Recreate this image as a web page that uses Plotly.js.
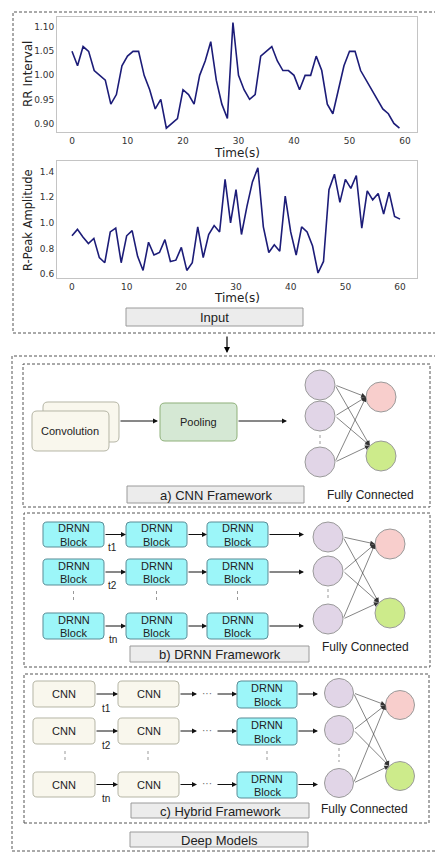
<!DOCTYPE html>
<html><head><meta charset="utf-8">
<script src="https://cdn.plot.ly/plotly-3.0.1.min.js"></script>
<style>html,body{margin:0;padding:0;background:#fff;}#chart{width:435px;height:852px;}</style>
</head><body><div id="chart"></div>
<script>
// ---- data ----
const rrTime = [0,1,2,3,4,5,6,7,8,9,10,11,12,13,14,15,16,17,18,19,20,21,22,23,24,25,26,27,28,29,30,31,32,33,34,35,36,37,38,39,40,41,42,43,44,45,46,47,48,49,50,51,52,53,54,55,56,57,58,59];
const rrInterval = [1.05,1.02,1.06,1.05,1.01,1.00,0.99,0.94,0.96,1.02,1.04,1.05,1.05,1.00,0.97,0.93,0.95,0.89,0.90,0.91,0.97,0.96,0.94,1.00,1.03,1.07,0.99,0.94,0.91,1.11,1.00,0.97,0.95,0.96,1.04,1.05,1.06,1.03,1.01,1.01,1.00,0.97,1.00,1.00,1.04,1.01,0.94,0.92,0.97,1.02,1.05,1.05,1.01,0.99,0.97,0.95,0.93,0.92,0.90,0.89];
const rpTime = [0,1,2,3,4,5,6,7,8,9,10,11,12,13,14,15,16,17,18,19,20,21,22,23,24,25,26,27,28,29,30,31,32,33,34,35,36,37,38,39,40,41,42,43,44,45,46,47,48,49,50,51,52,53,54,55,56,57,58,59,60];
const rpAmplitude = [0.90,0.95,0.89,0.84,0.88,0.73,0.69,0.93,0.96,0.69,0.90,0.94,0.74,0.63,0.85,0.75,0.77,0.87,0.70,0.71,0.81,0.63,0.69,0.97,0.73,0.91,0.98,0.93,1.34,1.00,1.26,0.91,1.13,1.32,1.43,0.97,0.77,0.83,0.78,1.21,0.93,0.75,0.97,0.93,0.82,0.61,0.70,1.26,1.38,1.16,1.34,1.27,1.37,0.96,1.25,1.18,1.23,1.07,1.24,1.05,1.03];
const xTicks = [0,10,20,30,40,50,60];
const rrTicks = [0.90,0.95,1.00,1.05,1.10];
const rpTicks = [0.6,0.8,1.0,1.2,1.4];

// ---- helpers (pixel -> paper) ----
const W = 435, H = 852;
const px = x => x / W, py = y => 1 - y / H;
const shapes = [], annotations = [];
const DASH = '3px,2px';

function rect(x0, y0, x1, y1, fill, line, width, dash) {
  shapes.push({type:'rect', xref:'paper', yref:'paper', x0:px(x0), x1:px(x1), y0:py(y1), y1:py(y0),
    fillcolor: fill || 'rgba(0,0,0,0)', line:{color: line, width: width === undefined ? 1 : width, dash: dash || 'solid'}, layer:'above'});
}
function rrect(x0, y0, x1, y1, r, fill, line) {
  const P = (x, y) => px(x).toFixed(5) + ',' + py(y).toFixed(5);
  const d = 'M' + P(x0 + r, y0) + ' L' + P(x1 - r, y0) + ' Q' + P(x1, y0) + ' ' + P(x1, y0 + r) +
    ' L' + P(x1, y1 - r) + ' Q' + P(x1, y1) + ' ' + P(x1 - r, y1) +
    ' L' + P(x0 + r, y1) + ' Q' + P(x0, y1) + ' ' + P(x0, y1 - r) +
    ' L' + P(x0, y0 + r) + ' Q' + P(x0, y0) + ' ' + P(x0 + r, y0) + ' Z';
  shapes.push({type:'path', xref:'paper', yref:'paper', path:d, fillcolor:fill, line:{color:line, width:1}, layer:'above'});
}
function circle(cx, cy, r, fill, line) {
  shapes.push({type:'circle', xref:'paper', yref:'paper', x0:px(cx - r), x1:px(cx + r), y0:py(cy + r), y1:py(cy - r),
    fillcolor:fill, line:{color:line || '#9a9a9a', width:1}, layer:'above'});
}
function vline(x, y0, y1, color, dash) {
  shapes.push({type:'line', xref:'paper', yref:'paper', x0:px(x), x1:px(x), y0:py(y0), y1:py(y1),
    line:{color:color || '#999', width:1, dash:dash || 'dot'}, layer:'above'});
}
function text(x, y, t, size, opts) {
  opts = opts || {};
  annotations.push({xref:'paper', yref:'paper', x:px(x), y:py(y), text:t, showarrow:false,
    xanchor: opts.xanchor || 'center', yanchor: opts.yanchor || 'middle', textangle: opts.angle || 0,
    font:{family: opts.family || 'Liberation Sans, Arial, sans-serif', size:size, color: opts.color || '#222'}});
}
function arrow(tx, ty, hx, hy, w, size, color) {
  annotations.push({xref:'paper', yref:'paper', x:px(hx), y:py(hy), ax:tx - hx, ay:ty - hy, axref:'pixel', ayref:'pixel',
    text:'', showarrow:true, arrowhead:2, arrowsize:size || 1, arrowwidth:w || 1, arrowcolor:color || '#111', standoff:0, startstandoff:0});
}
function network(inX, inYs, outX, outYs, r, dotY0, dotY1) {
  inYs.forEach(y => circle(inX, y, r, '#e1d5e7'));
  circle(outX, outYs[0], r, '#f8cecc');
  circle(outX, outYs[1], r, '#cdeb8b');
  vline(inX, dotY0, dotY1, '#999', 'dot');
  // convergence points: left edge of red output, upper-left of green output
  const ends = [[outX - r, outYs[0]], [outX - r * 0.75, outYs[1] - r * 0.7]];
  inYs.forEach(iy => ends.forEach(e => {
    arrow(inX + r, iy, e[0], e[1], 0.6, 1.6, '#333');
  }));
}
function label(x0, y0, x1, y1, t, size) {
  rect(x0, y0, x1, y1, '#ececec', '#9a9a9a', 1);
  text((x0 + x1) / 2, (y0 + y1) / 2 + 0.5, t, size);
}

// ---- Input section ----
rect(13, 12, 437, 333, null, '#555', 1, DASH);
label(126, 308, 303, 326, 'Input', 13);
text(28, 74, 'RR Interval', 12, {angle:-90, family:'DejaVu Sans, sans-serif'});
text(237, 153, 'Time(s)', 12, {family:'DejaVu Sans, sans-serif'});
text(28, 220, 'R-Peak Amplitude', 11.5, {angle:-90, family:'DejaVu Sans, sans-serif'});
text(237, 298, 'Time(s)', 12, {family:'DejaVu Sans, sans-serif'});
arrow(227, 335, 227, 353, 1.2, 1, '#000');

// ---- Deep Models section ----
rect(12, 356, 437, 851, null, '#555', 1, DASH);
label(130, 832, 308, 847, 'Deep Models', 13);

// a) CNN
rect(23, 364, 430, 507, null, '#555', 1, DASH);
rrect(43, 402, 119, 442, 5, '#f9f7ed', '#b5b5a5');
rrect(32, 411, 109, 451, 5, '#f9f7ed', '#b5b5a5');
text(70, 431, 'Convolution', 11);
arrow(119, 421, 158, 421, 1, 1, '#111');
rrect(160, 403, 237, 441, 5, '#d5e8d4', '#8fb07a');
text(198, 422, 'Pooling', 11);
arrow(237, 421, 287, 421, 1, 1, '#111');
network(320, [385, 416, 462], 381, [397, 456], 15, 435, 446);
label(127, 486, 304, 503, 'a) CNN Framework', 13);
text(370, 495, 'Fully Connected', 12);

// b) DRNN
rect(24, 513, 430, 667, null, '#555', 1, DASH);
const bCols = [[43, 104], [126, 187], [207, 268]];
const bRows = [[522, 547], [559, 585], [613, 639]];
const tLabels = ['t1', 't2', 'tn'];
bRows.forEach((r, i) => {
  const cy = (r[0] + r[1]) / 2;
  bCols.forEach(c => {
    rrect(c[0], r[0], c[1], r[1], 4, '#9cf6f9', '#5a8c96');
    text((c[0] + c[1]) / 2, cy - 6.5, 'DRNN', 11);
    text((c[0] + c[1]) / 2, cy + 7, 'Block', 11);
  });
  arrow(104, cy, 126, cy, 1, 1, '#111');
  arrow(187, cy, 207, cy, 1, 1, '#111');
  arrow(268, cy, 304, cy, 1, 1, '#111');
  text(113, r[1] + 0.5, tLabels[i], 10);
});
bCols.forEach(c => vline((c[0] + c[1]) / 2, 591, 603, '#999', 'dot'));
network(328, [537, 571, 619], 390, [544, 613], 15, 589, 601);
label(130, 646, 309, 662, 'b) DRNN Framework', 13);
text(365, 647, 'Fully Connected', 12);

// c) Hybrid
rect(24, 674, 429, 823, null, '#555', 1, DASH);
const cRows = [[681, 707], [718, 744], [772, 797]];
cRows.forEach((r, i) => {
  const cy = (r[0] + r[1]) / 2;
  rrect(33, r[0], 95, r[1], 4, '#f9f7ed', '#b5b5a5');
  text(64, cy, 'CNN', 11);
  rrect(118, r[0], 179, r[1], 4, '#f9f7ed', '#b5b5a5');
  text(148.5, cy, 'CNN', 11);
  rrect(237, r[0], 297, r[1] + 1, 4, '#9cf6f9', '#5a8c96');
  text(267, cy - 6, 'DRNN', 11);
  text(267, cy + 7.5, 'Block', 11);
  arrow(95, cy, 118, cy, 1, 1, '#111');
  arrow(179, cy, 197, cy, 1, 1, '#111');
  text(207, cy - 1, '···', 10, {color:'#666'});
  arrow(216, cy, 237, cy, 1, 1, '#111');
  arrow(297, cy, 318, cy, 1, 1, '#111');
  text(106, r[1] + 1, tLabels[i], 10);
});
[65, 148, 267].forEach(x => vline(x, 751, 762, '#999', 'dot'));
network(339, [693, 730, 783], 400, [705, 776], 14.5, 748, 762);
label(131, 803, 309, 818, 'c) Hybrid Framework', 13);
text(364, 809, 'Fully Connected', 12);

// ---- charts ----
const lineStyle = {color:'#1c1c78', width:1.6};
const tickFont = {family:'DejaVu Sans, sans-serif', size:9, color:'#333'};
const baseAxis = {showgrid:false, zeroline:false, showline:true, mirror:true, linecolor:'#c4c4c4', linewidth:1,
  ticks:'', tickfont:tickFont, fixedrange:true};

const traces = [
  {x: rrTime, y: rrInterval, type:'scatter', mode:'lines', line:lineStyle, xaxis:'x', yaxis:'y', hoverinfo:'skip'},
  {x: rpTime, y: rpAmplitude, type:'scatter', mode:'lines', line:lineStyle, xaxis:'x2', yaxis:'y2', hoverinfo:'skip'}
];

const layout = {
  width: W, height: H, margin:{l:0, r:0, t:0, b:0}, paper_bgcolor:'#fff', plot_bgcolor:'#fff', showlegend:false,
  xaxis: Object.assign({}, baseAxis, {domain:[px(57), px(417)], range:[-2.7, 62.16], tickvals:xTicks, anchor:'y'}),
  yaxis: Object.assign({}, baseAxis, {domain:[py(132), py(17)], range:[0.882, 1.1215], tickvals:rrTicks, tickformat:'.2f', anchor:'x'}),
  xaxis2: Object.assign({}, baseAxis, {domain:[px(57), px(417)], range:[-2.74, 63.1], tickvals:xTicks, anchor:'y2'}),
  yaxis2: Object.assign({}, baseAxis, {domain:[py(278), py(161)], range:[0.571, 1.483], tickvals:rpTicks, tickformat:'.1f', anchor:'x2'}),
  shapes: shapes,
  annotations: annotations
};
Plotly.newPlot('chart', traces, layout, {staticPlot:true, displayModeBar:false});
</script>
</body></html>
